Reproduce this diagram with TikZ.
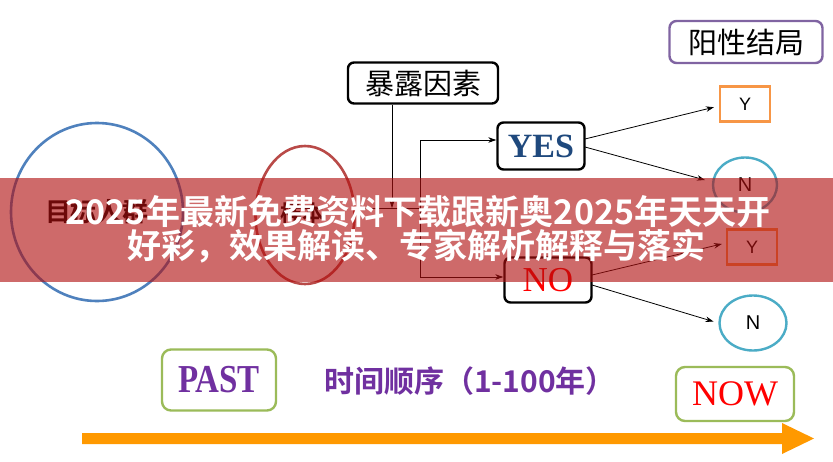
\documentclass[tikz,border=0pt]{standalone}
\usepackage{fontspec}
\usepackage{graphicx}
\setmainfont{Liberation Serif}
\newfontfamily\arial{Liberation Sans}
\newfontfamily\cjk{Noto Sans CJK SC}[BoldFont={Noto Sans CJK SC Bold}]
\usetikzlibrary{arrows.meta,shapes.geometric}
\definecolor{bluec}{RGB}{79,129,189}
\definecolor{redc}{RGB}{185,74,72}
\definecolor{purp}{RGB}{128,100,162}
\definecolor{orng}{RGB}{247,150,70}
\definecolor{cyanc}{RGB}{75,172,198}
\definecolor{grn}{RGB}{155,187,89}
\definecolor{navy}{RGB}{31,73,125}
\definecolor{txtpurp}{RGB}{112,48,160}
\definecolor{arrorange}{RGB}{255,153,0}
\definecolor{bannerc}{RGB}{177,16,16}
\tikzset{
  blackbox/.style={draw=black,line width=2.4pt,rounded corners=6pt,inner sep=0pt},
  ybox/.style={draw=orng,line width=2.4pt,inner sep=0pt,minimum width=50pt,minimum height=35pt,font=\arial\fontsize{18}{18}\selectfont},
  ncirc/.style={draw=cyanc,line width=2.4pt,ellipse,inner sep=0pt,font=\arial\fontsize{20}{20}\selectfont},
  greenbox/.style={draw=grn,line width=2.4pt,rounded corners=9pt,inner sep=0pt,minimum width=114pt},
  conn/.style={draw=black,line width=0.8pt,-{Stealth[length=8pt,width=5.5pt]}},
  plain/.style={draw=black,line width=0.8pt},
}
\begin{document}
\begin{tikzpicture}[x=1pt,y=-1pt]
\useasboundingbox (0,0) rectangle (833,461);
\fill[white] (0,0) rectangle (833,461);

% left ellipses
\node[ellipse,draw=bluec,line width=2.6pt,minimum width=172pt,minimum height=178pt,inner sep=0pt] (pop) at (97,212) {};
\node[font=\cjk\bfseries\fontsize{26}{26}\selectfont] (poptxt) at (97,212) {目标人群};
\node[ellipse,draw=redc,line width=2.6pt,minimum width=99pt,minimum height=138pt,inner sep=0pt] (samp) at (305,215) {};
\node[font=\cjk\bfseries\fontsize{22}{22}\selectfont] (samptxt) at (302,213) {样本};

% exposure
\node[blackbox,minimum width=150pt,minimum height=41pt,font=\cjk\fontsize{29}{29}\selectfont] (expo) at (423,83) {暴露因素};
\node[blackbox,minimum width=87pt,minimum height=47pt,font=\bfseries\fontsize{34}{34}\selectfont,text=navy] (yes) at (541,146) {YES};
\node[blackbox,minimum width=87pt,minimum height=45pt,font=\fontsize{35}{35}\selectfont,text=red] (no) at (548,280) {NO};

\coordinate (j1) at (392,208);
\coordinate (j2) at (420,208);
\coordinate (jy) at (420,140);
\coordinate (jn) at (420,277);
\draw[plain] (samp.east |- j1) -- (j2);
\draw[conn] (expo.south -| j1) -- (j1);
\draw[plain] (jy) -- (jn);
\draw[conn] (jy) -- (jy -| yes.west);
\draw[conn] (jn) -- (jn -| no.west);

% outcomes
\node[draw=purp,line width=2.4pt,rounded corners=7pt,minimum width=153pt,minimum height=42pt,inner sep=0pt,font=\cjk\fontsize{29}{29}\selectfont] (pos) at (746,42) {阳性结局};
\node[ybox] (y1) at (745,104) {Y};
\node[ncirc,minimum width=64pt,minimum height=55pt] (n1) at (745,185) {N};
\node[ybox] (y2) at (752,247) {Y};
\node[ncirc,minimum width=67pt,minimum height=55pt] (n2) at (753,323) {N};

\coordinate (ya) at (585,139);
\coordinate (yb) at (585,147);
\coordinate (na) at (592,275);
\coordinate (nb) at (592,285);
\draw[conn,shorten >=5pt] (ya) -- (y1.west |- 0,106);
\draw[conn] (yb) -- (705,180);
\draw[conn,shorten >=4pt] (na) -- (y2.west |- 0,243);
\draw[conn,shorten >=5pt] (nb) -- (n2.west);

% timeline
\node[greenbox,minimum height=61pt,text=txtpurp] (past) at (219,380) {\scalebox{1}[1.2]{\bfseries\fontsize{33}{33}\selectfont PAST}};
\node[font=\cjk\bfseries\fontsize{30}{30}\selectfont,text=txtpurp] (time) at (470,381) {时间顺序（1-100年）};
\node[greenbox,minimum width=118pt,minimum height=54pt,font=\fontsize{36}{36}\selectfont,text=red] (now) at (735,394) {NOW};
\fill[arrorange] (82,433) -- (782,433) -- (782,423) -- (814,438.5) -- (782,454) -- (782,444) -- (82,444) -- cycle;

% banner overlay
\fill[bannerc,fill opacity=0.62] (0,178) rectangle (833,282);
\begin{scope}[font=\cjk\bfseries\fontsize{34}{34}\selectfont,text=white]
\node (b1) at (418,212) {2025年最新免费资料下载跟新奥2025年天天开};
\node (b2) at (416,246) {好彩，效果解读、专家解析解释与落实};
\end{scope}
\end{tikzpicture}
\end{document}
